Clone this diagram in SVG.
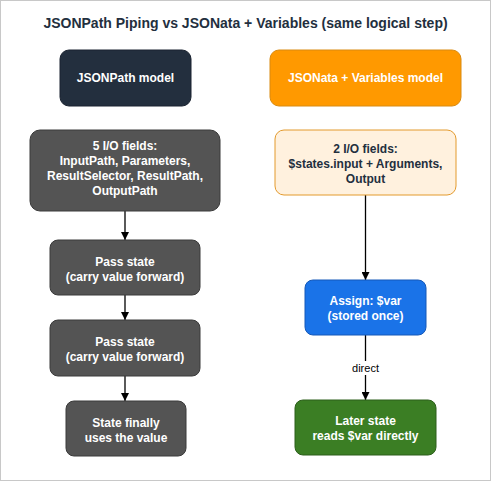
<svg xmlns="http://www.w3.org/2000/svg" width="491" height="481" viewBox="0 0 491 481">
<style>
text{font-family:"Liberation Sans",Arial,sans-serif;font-weight:bold;text-anchor:middle}
.t{font-size:12px;fill:#fff}
.d{font-size:12px;fill:#232f3e}
.grey{fill:#545454;stroke:#3a3a3a;stroke-width:1}
.c{stroke:#000;stroke-width:1.3;fill:none;marker-end:url(#ah)}
</style>
<defs>
<marker id="ah" viewBox="0 0 10 10" refX="10" refY="5" markerWidth="8" markerHeight="8" markerUnits="userSpaceOnUse" orient="auto"><path d="M0,0 L10,5 L0,10 z" fill="#000"/></marker>
</defs>
<rect x="0.5" y="0.5" width="490" height="480" fill="#fff" stroke="#c8c8c8"/>
<text x="245.5" y="28" style="font-size:14px;fill:#232f3e">JSONPath Piping vs JSONata + Variables (same logical step)</text>
<g id="connectors">
<path class="c" d="M125,211 V240"/>
<path class="c" d="M125,295 V320"/>
<path class="c" d="M125,376 V401"/>
<path class="c" d="M365.5,195 V280"/>
<path class="c" d="M365.5,335 V400"/>
<rect x="347" y="361" width="37" height="14" fill="#fff"/>
<text x="365.5" y="372" style="font-size:11px;font-weight:normal;fill:#000">direct</text>
</g>
<g id="jsonpath-model">
<rect x="60" y="50" width="131" height="56" rx="9" fill="#232f3e" stroke="#1a2330"/>
<text class="t" x="125.5" y="82">JSONPath model</text>
</g>
<g id="jsonata-model">
<rect x="270" y="50" width="191" height="56" rx="9" fill="#ff9900" stroke="#d98a10"/>
<text class="t" x="365.5" y="82">JSONata + Variables model</text>
</g>
<g id="five-fields">
<rect class="grey" x="30" y="130" width="190" height="81" rx="10"/>
<text class="t" x="125" y="150">5 I/O fields:</text>
<text class="t" x="125" y="165">InputPath, Parameters,</text>
<text class="t" x="125" y="180">ResultSelector, ResultPath,</text>
<text class="t" x="125" y="195">OutputPath</text>
</g>
<g id="pass1">
<rect class="grey" x="50" y="240" width="150" height="55" rx="8"/>
<text class="t" x="125" y="266">Pass state</text>
<text class="t" x="125" y="281">(carry value forward)</text>
</g>
<g id="pass2">
<rect class="grey" x="50" y="320" width="150" height="56" rx="8"/>
<text class="t" x="125" y="346">Pass state</text>
<text class="t" x="125" y="361">(carry value forward)</text>
</g>
<g id="final">
<rect class="grey" x="66" y="401" width="120" height="55" rx="8"/>
<text class="t" x="126" y="427">State finally</text>
<text class="t" x="126" y="442">uses the value</text>
</g>
<g id="two-fields">
<rect x="275" y="130" width="181" height="65" rx="9" fill="#fff1de" stroke="#e39a2d"/>
<text class="d" x="365.5" y="153">2 I/O fields:</text>
<text class="d" x="365.5" y="168">$states.input + Arguments,</text>
<text class="d" x="365.5" y="183">Output</text>
</g>
<g id="assign">
<rect x="305" y="280" width="121" height="55" rx="8" fill="#1a73e8" stroke="#1558b8"/>
<text class="t" x="365.5" y="305">Assign: $var</text>
<text class="t" x="365.5" y="320">(stored once)</text>
</g>
<g id="later">
<rect x="295" y="400" width="141" height="55" rx="8" fill="#3b7e24" stroke="#2c5f1b"/>
<text class="t" x="365.5" y="425">Later state</text>
<text class="t" x="365.5" y="440">reads $var directly</text>
</g>
</svg>
